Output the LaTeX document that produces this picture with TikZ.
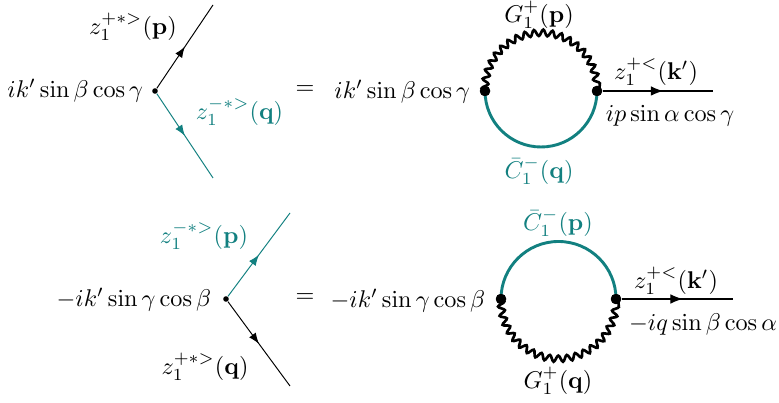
\documentclass[tikz,border=0pt]{standalone}
\usepackage{amsmath}
\usetikzlibrary{arrows.meta,decorations.pathmorphing,decorations.markings}
\definecolor{tealc}{RGB}{18,128,128}
\tikzset{
  vdot/.style={circle,fill=black,inner sep=0pt,minimum size=2.3pt},
  ldot/.style={circle,fill=black,inner sep=0pt,minimum size=4.3pt},
  thinline/.style={line width=0.4pt},
  midarrow/.style={postaction={decorate},decoration={markings,
      mark=at position 0.5 with {\arrow{Latex[length=4.5pt,width=3.4pt]}}}},
  outarrow/.style={line width=0.55pt,postaction={decorate},decoration={markings,
      mark=at position 0.55 with {\arrow{Latex[length=5.2pt,width=4pt]}}}},
  thickline/.style={line width=1.2pt},
  wavy/.style={line width=1.1pt,decorate,decoration={snake,amplitude=1.3pt,segment length=3.7pt}},
  lbl/.style={inner sep=1pt}
}
\begin{document}
\begin{tikzpicture}[x=0.413pt,y=0.413pt]
\useasboundingbox (0,0) rectangle (779,-403);
% ---------- top left vertex
\node[vdot] (v1) at (155,-91) {};
\coordinate (v1a) at (213,-5);
\coordinate (v1b) at (213,-178);
\draw[thinline,midarrow] (v1) -- (v1a);
\draw[thinline,tealc,midarrow] (v1) -- (v1b);
\node[lbl,anchor=east] (t1) at (146,-91) {$ik'\sin\beta\cos\gamma$};
\node[lbl] (t2) at (133,-27) {$z_1^{+*>}(\mathbf{p})$};
\node[lbl,anchor=west,text=tealc] (t3) at (193,-112) {$z_1^{-*>}(\mathbf{q})$};
\node (eq1) at (305,-90) {$=$};
% ---------- top right loop
\node[ldot] (a1) at (485,-91) {};
\node[ldot] (b1) at (597,-91) {};
\coordinate (o1) at (713,-91);
\draw[thickline,tealc] (a1.center) arc[start angle=180,end angle=360,radius=56];
\draw[wavy] (a1.center) arc[start angle=180,end angle=0,radius=56];
\node[ldot] at (a1) {};
\node[ldot] at (b1) {};
\draw[outarrow] (b1) -- (o1);
\node[lbl,anchor=east] (t4) at (473,-92) {$ik'\sin\beta\cos\gamma$};
\node[lbl] (t5) at (539,-15) {$G_1^{+}(\mathbf{p})$};
\node[lbl,text=tealc] (t6) at (539,-171) {$\bar{C}_1^{-}(\mathbf{q})$};
\node[lbl] (t7) at (656,-72) {$z_1^{+<}(\mathbf{k}')$};
\node[lbl] (t8) at (670,-116) {$ip\sin\alpha\cos\gamma$};
% ---------- bottom left vertex
\node[vdot] (v2) at (226,-299) {};
\coordinate (v2a) at (290,-213);
\coordinate (v2b) at (290,-386);
\draw[thinline,tealc,midarrow] (v2) -- (v2a);
\draw[thinline,midarrow] (v2) -- (v2b);
\node[lbl,anchor=east] (t9) at (214,-300) {$-ik'\sin\gamma\cos\beta$};
\node[lbl,text=tealc] (t10) at (204,-236) {$z_1^{-*>}(\mathbf{p})$};
\node[lbl] (t11) at (205,-367) {$z_1^{+*>}(\mathbf{q})$};
\node (eq2) at (305,-298) {$=$};
% ---------- bottom right loop
\node[ldot] (a2) at (501,-299) {};
\node[ldot] (b2) at (616,-299) {};
\coordinate (o2) at (733,-299);
\draw[thickline,tealc] (a2.center) arc[start angle=180,end angle=0,radius=57.5];
\draw[wavy] (a2.center) arc[start angle=180,end angle=360,radius=57.5];
\node[ldot] at (a2) {};
\node[ldot] at (b2) {};
\draw[outarrow] (b2) -- (o2);
\node[lbl,anchor=east] (t12) at (488,-301) {$-ik'\sin\gamma\cos\beta$};
\node[lbl,text=tealc] (t13) at (558,-223) {$\bar{C}_1^{-}(\mathbf{p})$};
\node[lbl] (t14) at (558,-381) {$G_1^{+}(\mathbf{q})$};
\node[lbl] (t15) at (676,-281) {$z_1^{+<}(\mathbf{k}')$};
\node[lbl] (t16) at (703,-324) {$-iq\sin\beta\cos\alpha$};
\end{tikzpicture}
\end{document}
